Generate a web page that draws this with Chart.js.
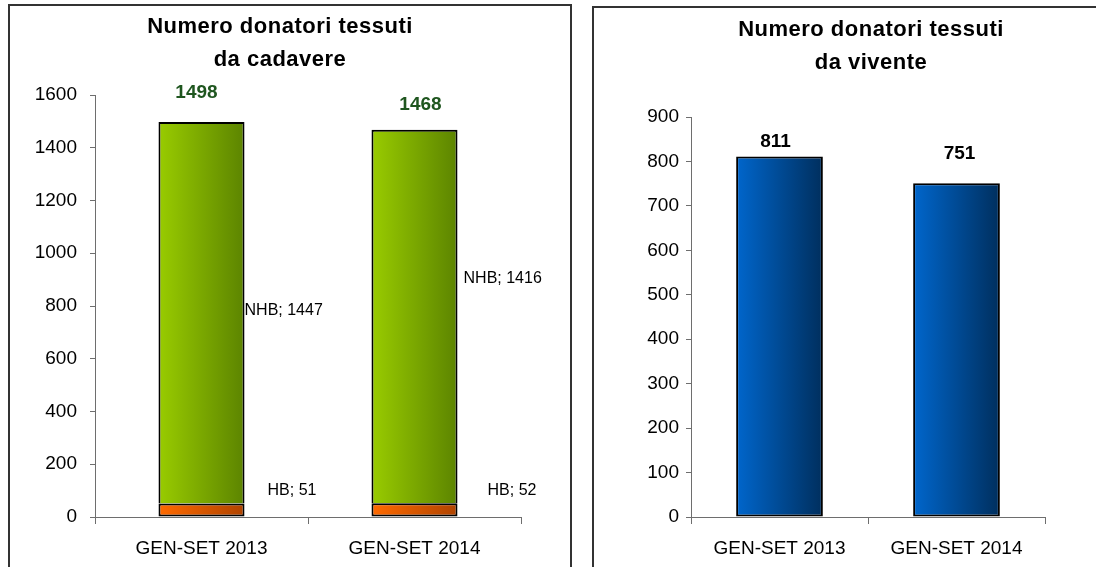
<!DOCTYPE html>
<html>
<head>
<meta charset="utf-8">
<script src="https://cdn.jsdelivr.net/npm/chart.js@4.4.1/dist/chart.umd.min.js"></script>
<style>
    body { margin: 0; background: #fff; width: 1096px; height: 567px; overflow: hidden; position: relative; }
    .panel { position: absolute; border: 2px solid #333; box-sizing: border-box; }
    canvas { position: absolute; }
</style>
</head>
<body>
<div class="panel" style="left:8px; top:4px; width:564px; height:620px;"></div>
<div class="panel" style="left:592px; top:6px; width:600px; height:620px;"></div>
<canvas id="cadavere" width="560" height="561" style="left:10px; top:6px;"></canvas>
<canvas id="vivente" width="502" height="559" style="left:594px; top:8px;"></canvas>
<script>
// data
var categories = ["GEN-SET 2013", "GEN-SET 2014"];
var hbValues = [51, 52];
var nhbValues = [1447, 1416];
var cadavereTotals = [1498, 1468];
var viventeValues = [811, 751];
var titleCadavere = ["Numero donatori tessuti", "da cadavere"];
var titleVivente = ["Numero donatori tessuti", "da vivente"];

var FONT = "'Liberation Sans', Arial, sans-serif";

function gradient(from, to, pct) {
    return function (c) {
        var xs = c.chart.scales.x;
        if (!xs) return from;
        var cx = xs.getPixelForValue(c.dataIndex);
        var half = xs.width / categories.length * pct / 2;
        if (!isFinite(cx) || !isFinite(half)) return from;
        var g = c.chart.ctx.createLinearGradient(cx - half, 0, cx + half, 0);
        g.addColorStop(0, from);
        g.addColorStop(1, to);
        return g;
    };
}

// titles, totals and segment labels
var textPlugin = {
    id: 'extraText',
    afterDatasetsDraw(chart, args, opts) {
        var ctx = chart.ctx;
        ctx.save();
        ctx.fillStyle = '#000';
        ctx.textAlign = 'center';
        ctx.textBaseline = 'middle';
        ctx.font = 'bold 22px ' + FONT;
        ctx.letterSpacing = '0.5px';
        opts.title.forEach(function (line, i) {
            ctx.fillText(line, opts.titleX, opts.titleY + i * 33);
        });
        ctx.letterSpacing = '0px';

        var lastMeta = chart.getDatasetMeta(chart.data.datasets.length - 1);
        ctx.font = 'bold 19px ' + FONT;
        ctx.fillStyle = opts.totalColor;
        opts.totals.forEach(function (v, i) {
            var el = lastMeta.data[i];
            ctx.fillText(String(v), el.x + opts.totalOffsets[i][0], el.y + opts.totalOffsets[i][1]);
        });

        ctx.font = '16px ' + FONT;
        ctx.fillStyle = '#000';
        ctx.textAlign = 'left';
        (opts.segments || []).forEach(function (s) {
            var meta = chart.getDatasetMeta(s.dataset);
            var ds = chart.data.datasets[s.dataset];
            meta.data.forEach(function (el, i) {
                var mid = (el.y + el.base) / 2;
                ctx.fillText(ds.label + '; ' + ds.data[i], el.x + el.width / 2 + s.offsets[i][0], mid + s.offsets[i][1]);
            });
        });
        ctx.restore();
    }
};

function axes(max, step, yWidth, tickPad) {
    return {
        x: {
            stacked: true,
            grid: { display: true, drawOnChartArea: false, tickLength: 7, color: '#6e6e6e' },
            border: { display: true, color: '#6e6e6e', width: 1 },
            ticks: { color: '#000', font: { family: FONT, size: 19 }, padding: 13 },
            afterFit: function (s) { s.height = 50; }
        },
        y: {
            stacked: true,
            min: 0,
            max: max,
            grid: { display: true, drawOnChartArea: false, tickLength: 5, color: '#6e6e6e' },
            border: { display: true, color: '#6e6e6e', width: 1 },
            ticks: {
                stepSize: step,
                color: '#000',
                font: { family: FONT, size: 19 },
                padding: tickPad,
                callback: function (v) { return String(v); }
            },
            afterFit: function (s) { s.width = yWidth; }
        }
    };
}

new Chart(document.getElementById('cadavere'), {
    type: 'bar',
    plugins: [textPlugin],
    data: {
        labels: categories,
        datasets: [{
            label: 'HB',
            data: hbValues,
            backgroundColor: gradient('#ff6a00', '#b04400', 0.404),
            borderColor: '#000',
            borderWidth: 2,
            borderSkipped: false,
            categoryPercentage: 1,
            barPercentage: 0.404
        }, {
            label: 'NHB',
            data: nhbValues,
            backgroundColor: gradient('#99cc00', '#5c8400', 0.404),
            borderColor: '#000',
            borderWidth: 2,
            borderSkipped: 'bottom',
            categoryPercentage: 1,
            barPercentage: 0.404
        }]
    },
    options: {
        responsive: false,
        animation: false,
        layout: { padding: { top: 89, right: 49, left: 0, bottom: 0 } },
        scales: axes(1600, 200, 85, 13),
        plugins: {
            legend: { display: false },
            tooltip: { enabled: false },
            extraText: {
                title: titleCadavere,
                titleX: 270,
                titleY: 21,
                totals: cadavereTotals,
                totalColor: '#1f561f',
                totalOffsets: [[-5, -29], [6, -25]],
                segments: [
                    { dataset: 0, offsets: [[23, -19], [30, -19]] },
                    { dataset: 1, offsets: [[0, -2], [6, -38]] }
                ]
            }
        }
    }
});

new Chart(document.getElementById('vivente'), {
    type: 'bar',
    plugins: [textPlugin],
    data: {
        labels: categories,
        datasets: [{
            label: 'Vivente',
            data: viventeValues,
            backgroundColor: gradient('#0066cc', '#002f5e', 0.49),
            borderColor: '#000',
            borderWidth: 2,
            borderSkipped: false,
            categoryPercentage: 1,
            barPercentage: 0.49
        }]
    },
    options: {
        responsive: false,
        animation: false,
        layout: { padding: { top: 109, right: 51, left: 0, bottom: 0 } },
        scales: axes(900, 100, 97, 7),
        plugins: {
            legend: { display: false },
            tooltip: { enabled: false },
            extraText: {
                title: titleVivente,
                titleX: 277,
                titleY: 22,
                totals: viventeValues,
                totalColor: '#000',
                totalOffsets: [[-4, -15], [3, -29]]
            }
        }
    }
});
</script>
</body>
</html>
